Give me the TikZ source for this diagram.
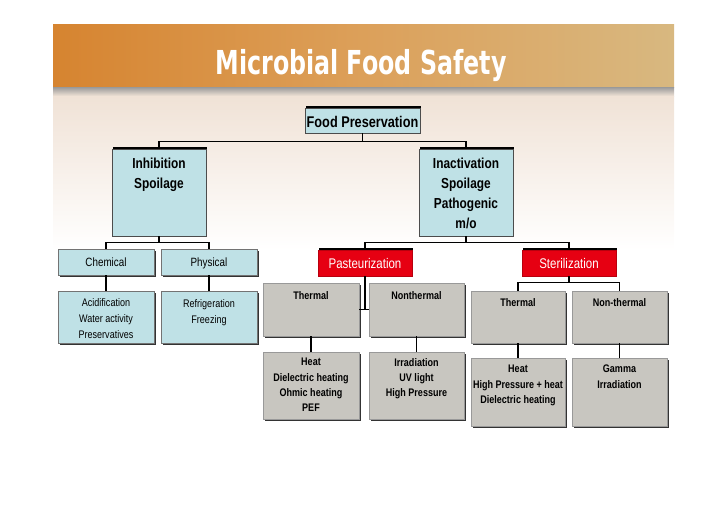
\documentclass[tikz,border=0pt]{standalone}
\usepackage{fontspec}
\setmainfont[FakeStretch=0.82]{Liberation Sans}
\newfontfamily\titlefont[FakeStretch=0.72]{DejaVu Sans}
\usetikzlibrary{fit,shadows}
\definecolor{boxblue}{RGB}{191,225,230}
\definecolor{boxgrey}{RGB}{200,198,192}
\definecolor{boxred}{RGB}{230,0,18}
\definecolor{hdrL}{RGB}{214,132,48}
\definecolor{hdrM}{RGB}{220,160,90}
\definecolor{hdrR}{RGB}{216,184,128}
\definecolor{bgtop}{RGB}{240,226,214}
\tikzset{
  conn/.style={draw=black, line width=1.2pt},
  boxbase/.style={rectangle, inner sep=0pt, line width=0.5pt},
  upbox/.style={boxbase, draw=black!70, fill=boxblue,
    drop shadow={shadow xshift=0.6pt, shadow yshift=2.5pt, opacity=1, fill=black}},
  redbox/.style={boxbase, draw=boxred!80!black, fill=boxred,
    drop shadow={shadow xshift=0.6pt, shadow yshift=2.5pt, opacity=1, fill=black}},
  lowblue/.style={boxbase, draw=black!55, fill=boxblue,
    drop shadow={shadow xshift=1.5pt, shadow yshift=-1.5pt, opacity=1, fill=black!80}},
  greybox/.style={boxbase, draw=black!40, fill=boxgrey,
    drop shadow={shadow xshift=1.5pt, shadow yshift=-1.5pt, opacity=1, fill=black!80}},
  txt/.style={inner sep=0pt, align=center, anchor=north},
  bigt/.style={txt, font=\bfseries\fontsize{14.5}{20}\selectfont},
  smallb/.style={txt, font=\bfseries\fontsize{11}{15.3}\selectfont},
  smallr/.style={txt, font=\fontsize{11}{16}\selectfont},
}
\begin{document}
\begin{tikzpicture}[x=1pt,y=-1pt]
\useasboundingbox (0,0) rectangle (728,515);
% header band
\shade[left color=hdrL, right color=hdrR, middle color=hdrM] (53,24) rectangle (674,87);
\shade[top color=black!40, bottom color=bgtop] (53,87) rectangle (674,96);
\shade[top color=bgtop, bottom color=white] (53,96) rectangle (674,250);
\node[font=\titlefont\bfseries\fontsize{33}{33}\selectfont, text=white, inner sep=0pt, anchor=base] (title) at (361,74) {Microbial Food Safety};

% boxes
\node[upbox, fit={(305,108) (420,133)}] (fp) {};
\node[upbox, fit={(112,149) (206,236)}] (inh) {};
\node[upbox, fit={(419,149) (513,236)}] (ina) {};
\node[lowblue, fit={(58,249) (154,275)}] (chem) {};
\node[lowblue, fit={(161,249) (257,275)}] (phys) {};
\node[lowblue, fit={(58,291) (154,343)}] (acid) {};
\node[lowblue, fit={(161,291) (257,343)}] (refr) {};
\node[redbox, fit={(318,250) (412,276)}] (pas) {};
\node[redbox, fit={(522,250) (616,276)}] (ster) {};
\node[greybox, fit={(263,283) (359,336)}] (thp) {};
\node[greybox, fit={(369,283) (464,336)}] (ntp) {};
\node[greybox, fit={(471,291) (565,343)}] (ths) {};
\node[greybox, fit={(572,291) (667,343)}] (nts) {};
\node[greybox, fit={(263,352) (359,419)}] (heatp) {};
\node[greybox, fit={(369,352) (464,419)}] (irr) {};
\node[greybox, fit={(471,358) (565,426)}] (heats) {};
\node[greybox, fit={(572,358) (667,426)}] (gam) {};

% connectors
\draw[conn] (fp.south) -- ++(0,9);
\draw[conn] (inh.north) -- ++(0,-7) -| (ina.north);
\draw[conn] (inh.south) -- ++(0,7);
\draw[conn] (chem.north) -- ++(0,-6) -| (phys.north);
\draw[conn] (chem.south) -- (acid.north);
\draw[conn] (phys.south) -- (refr.north);
\draw[conn] (ina.south) -- ++(0,7);
\draw[conn] (pas.north) -- ++(0,-7) -| (ster.north);
\draw[conn] (pas.south) -- (pas.south |- thp.east);
\draw[conn] (thp.east) -- (ntp.west);
\draw[conn] (ster.south) -- ++(0,7);
\draw[conn] (ths.north) -- ++(0,-8) -| (nts.north);
\draw[conn] (thp.south) -- (heatp.north);
\draw[conn] (ntp.south) -- (irr.north);
\draw[conn] (ths.south) -- (heats.north);
\draw[conn] (nts.south) -- (gam.north);

% texts
\node[txt, font=\bfseries\fontsize{15.5}{20}\selectfont] (fp-t) at (362.5,116.3) {Food Preservation};
\node[bigt] (inh-t) at (159,157.6) {Inhibition\\Spoilage};
\node[bigt] (ina-t) at (466,157.6) {Inactivation\\Spoilage\\Pathogenic\\m/o};
\node[txt, font=\fontsize{12}{16}\selectfont] (chem-t) at (106,257.6) {Chemical};
\node[txt, font=\fontsize{12}{16}\selectfont] (phys-t) at (209,257.6) {Physical};
\node[smallr] (acid-t) at (106,298) {Acidification\\Water activity\\Preservatives};
\node[smallr] (refr-t) at (209,299) {Refrigeration\\Freezing};
\node[txt, text=white, font=\fontsize{14}{16}\selectfont] (pas-t) at (365,257.8) {Pasteurization};
\node[txt, text=white, font=\fontsize{14}{16}\selectfont] (ster-t) at (569,257.8) {Sterilization};
\node[smallb] (thp-t) at (311,291) {Thermal};
\node[smallb] (ntp-t) at (416.5,291) {Nonthermal};
\node[smallb] (ths-t) at (518,298) {Thermal};
\node[smallb] (nts-t) at (619.5,298) {Non-thermal};
\node[smallb] (heatp-t) at (311,358) {Heat\\Dielectric heating\\Ohmic heating\\PEF};
\node[smallb] (irr-t) at (416.5,358) {Irradiation\\UV light\\High Pressure};
\node[smallb] (heats-t) at (518,365) {Heat\\High Pressure + heat\\Dielectric heating};
\node[smallb] (gam-t) at (619.5,365) {Gamma\\Irradiation};
\end{tikzpicture}
\end{document}
